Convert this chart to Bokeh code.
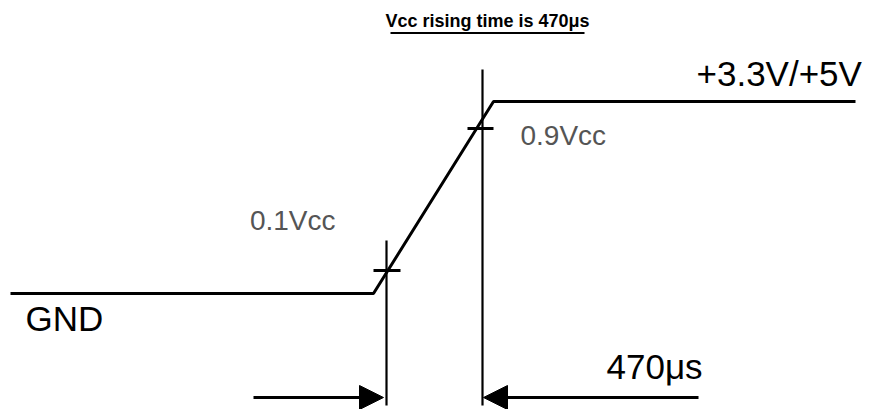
from bokeh.plotting import figure
from bokeh.models import Range1d, Arrow, NormalHead, ColumnDataSource
from bokeh.core.properties import value
from bokeh.embed import file_html
from bokeh.resources import INLINE

# Diagram coordinates (pixel space of the drawing, y grows downward)
wave_x = [10, 373, 493, 855]
wave_y = [293, 293, 101, 101]

marker_x0 = [373, 467]
marker_x1 = [400, 493]
marker_y = [270, 128]

vline_x = [386, 482]
vline_top = [240, 69]
vline_bottom = [405, 405]

arrow_start = [253, 698]
arrow_end = [383, 483]
arrow_y = [397, 397]

labels = ["+3.3V/+5V", "0.9Vcc", "GND", "470\u03bcs"]
label_x = [696, 520, 25, 606]
label_y = [72.5, 135, 318, 366]
label_size = ["35px", "28px", "35px", "35px"]
label_color = ["#000000", "#555555", "#000000", "#000000"]

low_label = "0.1Vcc"
low_label_x = 335
low_label_y = 220

title_text = "Vcc rising time is 470\u03bcs"

W, H = 874, 409
p = figure(width=W, height=H, output_backend="svg", toolbar_location=None,
           x_range=Range1d(0, W), y_range=Range1d(H, 0),
           min_border=0, x_axis_location=None, y_axis_location=None)
p.grid.visible = False
p.outline_line_color = None
p.background_fill_color = "white"
p.border_fill_color = "white"

# waveform
p.line(wave_x, wave_y, line_color="black", line_width=3)

# vertical reference lines
p.segment(x0=vline_x, y0=vline_top, x1=vline_x, y1=vline_bottom,
          line_color="black", line_width=2.2)

# small tick marks at 10% / 90%
p.segment(x0=marker_x0, y0=marker_y, x1=marker_x1, y1=marker_y,
          line_color="black", line_width=3)

# arrows
for xs, xe, ya in zip(arrow_start, arrow_end, arrow_y):
    p.add_layout(Arrow(end=NormalHead(size=24, fill_color="black", line_color="black", line_width=1),
                       x_start=xs, y_start=ya, x_end=xe, y_end=ya,
                       line_color="black", line_width=3))

# labels
src = ColumnDataSource(dict(x=label_x, y=label_y, t=labels, s=label_size, c=label_color))
p.text(x="x", y="y", text="t", text_font_size="s", text_color="c", source=src,
       text_font=value("Liberation Sans"), text_baseline="middle", text_align="left")
p.text(x=[low_label_x], y=[low_label_y], text=[low_label], text_font=value("Liberation Sans"),
       text_font_size=value("28px"), text_color="#555555",
       text_baseline="middle", text_align="right")

# title with underline
p.text(x=[487], y=[20], text=[title_text], text_font=value("Liberation Sans"),
       text_font_style="bold", text_font_size=value("18px"), text_align="center",
       text_baseline="middle", text_color="black")
p.segment(x0=[390], y0=[32.5], x1=[584], y1=[32.5], line_color="black", line_width=2)

open("out.html", "w").write(file_html(p, INLINE))
